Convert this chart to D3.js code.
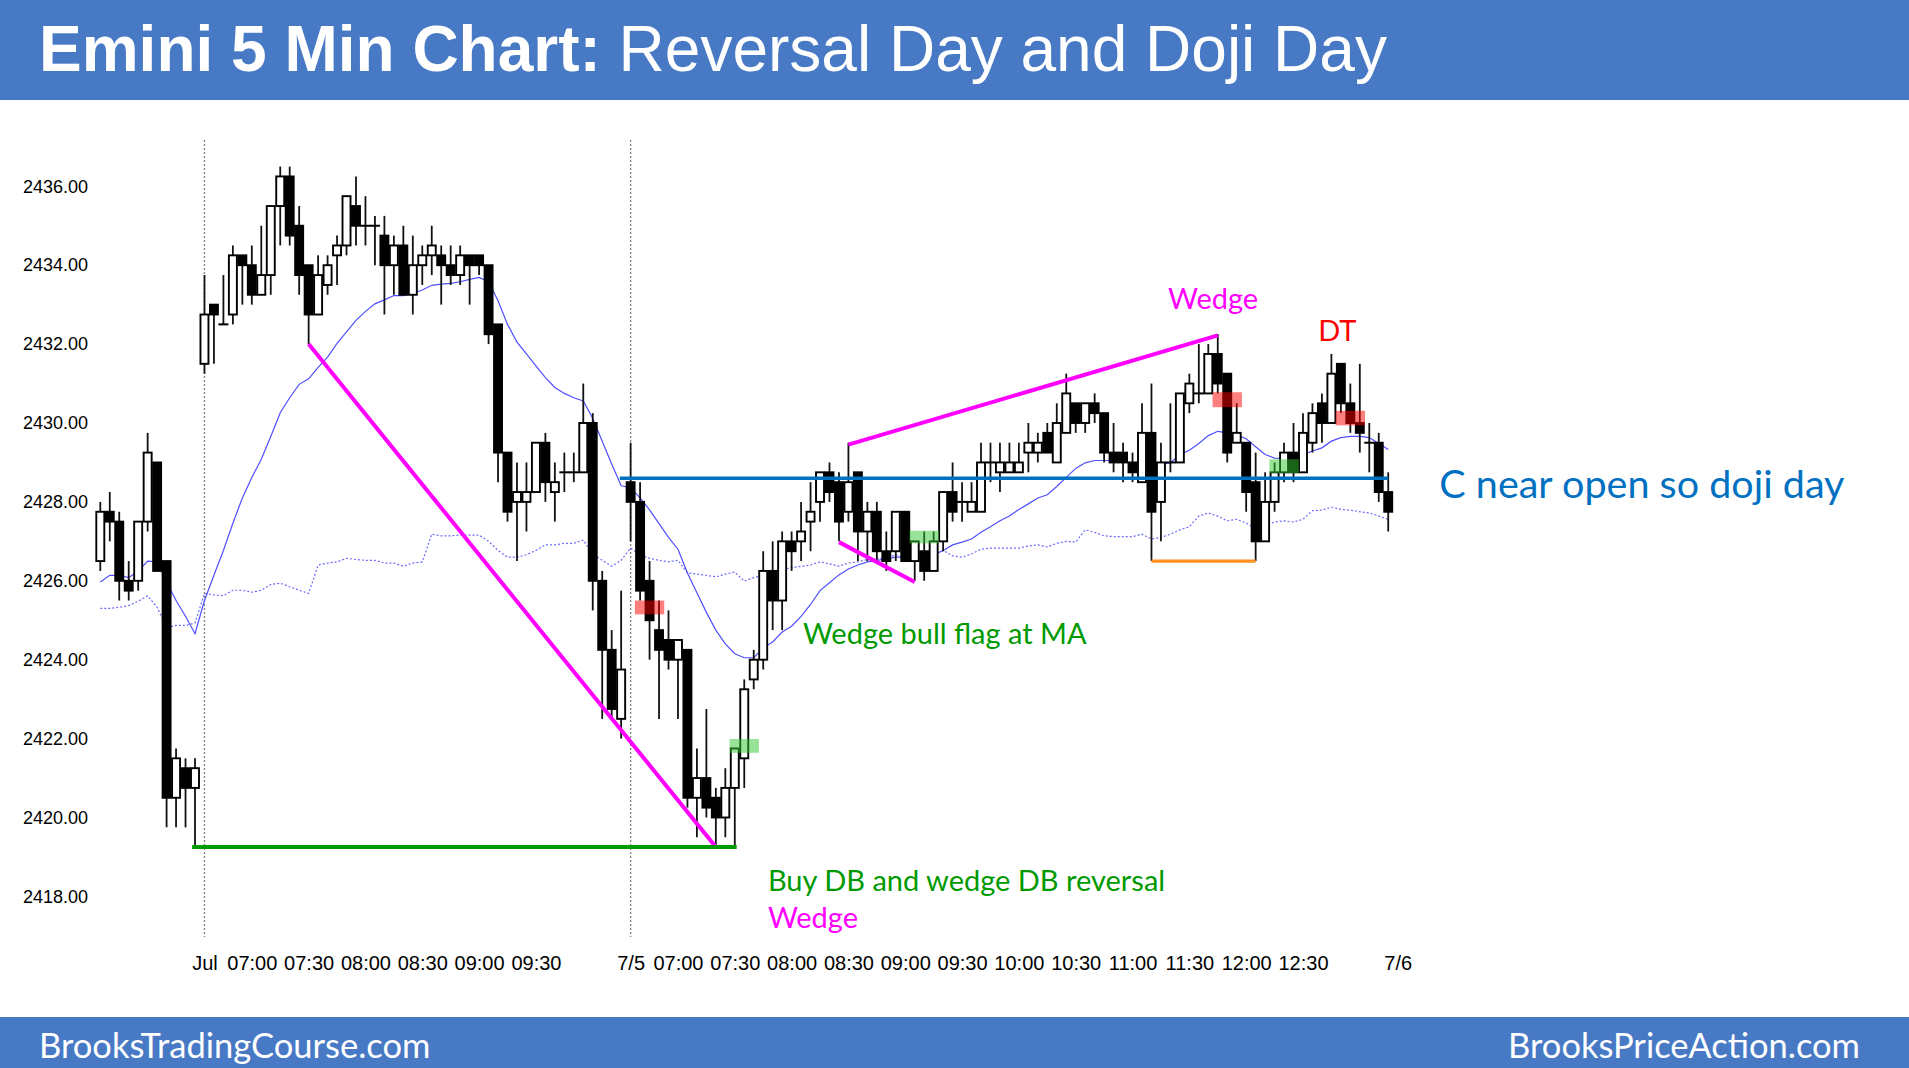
<!DOCTYPE html>
<html><head><meta charset="utf-8">
<script src="https://cdn.jsdelivr.net/npm/d3@7"></script>
<style>html,body{margin:0;padding:0;background:#fff;} svg{display:block;}</style>
</head><body>
<svg id="c" width="1909" height="1068"></svg>
<script>
// ---------- DATA ----------
// bar index 0..10 = prior session close, 11..55 = Jul 3, 56..136 = Jul 5
const opens = [
 2426.5,2427.75,2427.5,2426.0,2426.0,2427.5,2429.0,2426.5,2420.5,2421.25,2420.75,
 2431.5,2433.0,2432.5,2432.75,2434.25,2434.0,2433.25,2433.75,2435.5,2436.25,
 2435.0,2434.0,2432.75,2433.5,2434.25,2434.5,2435.5,2435.0,2435.0,2434.75,
 2434.0,2434.5,2433.25,2434.0,2434.25,2434.25,2434.0,2433.75,2434.25,2434.25,
 2434.0,2432.5,2429.25,2428.0,2428.0,2428.25,2429.5,2428.25,2428.75,2428.75,
 2428.75,2430.0,2426.0,2424.25,2422.5,2428.5,2428.0,2426.0,2424.75,2424.5,
 2424.0,2424.25,2420.5,2421.0,2420.5,2420.0,2420.75,2421.5,2423.5,2424.0,
 2426.25,2425.5,2427.0,2427.0,2427.5,2428.0,2428.75,2428.5,2427.75,2428.75,
 2427.25,2427.75,2426.75,2426.75,2427.75,2426.5,2426.75,2426.25,2427.0,2428.25,
 2428.0,2427.75,2427.75,2429.0,2428.75,2428.75,2428.75,2429.25,2429.25,2429.75,
 2429.0,2429.75,2430.5,2430.0,2430.5,2430.25,2429.25,2429.25,2429.0,2428.5,
 2429.75,2428.0,2429.0,2429.0,2430.5,2430.75,2430.75,2431.75,2431.25,2429.5,
 2429.5,2428.5,2427.0,2428.0,2428.75,2429.25,2428.75,2429.5,2430.5,2430.0,
 2431.5,2430.5,2430.0,2429.5,2429.5,2428.25];
const highs = [
 2428.0,2428.25,2427.75,2426.5,2427.5,2429.75,2429.0,2426.5,2421.75,2421.5,2421.5,
 2433.75,2433.0,2433.75,2434.5,2434.25,2434.5,2435.0,2435.5,2436.5,2436.5,
 2435.5,2434.0,2434.25,2434.25,2434.75,2435.75,2436.25,2435.75,2435.25,2435.25,
 2434.75,2435.0,2434.75,2434.5,2435.0,2434.5,2434.5,2434.5,2434.25,2434.25,
 2434.0,2432.5,2429.25,2429.0,2429.0,2429.5,2429.75,2429.0,2429.25,2429.25,
 2431.0,2430.25,2426.25,2424.75,2425.75,2429.5,2428.5,2426.5,2425.5,2425.25,
 2424.5,2424.25,2421.75,2422.75,2420.75,2421.25,2421.75,2423.5,2424.25,2426.75,
 2427.0,2427.25,2427.25,2428.0,2428.5,2428.75,2429.0,2428.75,2429.5,2428.75,
 2428.0,2428.0,2427.25,2427.75,2427.75,2427.0,2427.25,2427.25,2428.25,2429.0,
 2428.5,2428.5,2429.5,2429.5,2429.5,2429.5,2429.5,2430.0,2429.75,2430.0,
 2430.5,2431.25,2430.5,2430.5,2430.75,2430.25,2430.0,2429.5,2429.25,2430.5,
 2431.0,2429.5,2430.5,2430.75,2431.25,2432.0,2432.0,2432.25,2431.25,2430.5,
 2429.5,2429.25,2428.75,2429.0,2429.5,2430.0,2430.25,2430.5,2430.75,2431.75,
 2431.5,2431.0,2431.5,2430.0,2429.75,2428.75];
const lows = [
 2426.25,2427.0,2425.5,2425.5,2425.75,2427.25,2426.25,2419.75,2419.75,2419.75,2419.25,
 2431.25,2431.5,2432.5,2432.5,2433.0,2433.0,2433.25,2433.25,2434.5,2434.5,
 2433.25,2432.0,2432.75,2433.25,2433.5,2434.25,2434.5,2434.5,2434.0,2432.75,
 2433.25,2433.25,2432.75,2433.5,2433.75,2433.0,2433.5,2433.5,2433.0,2433.75,
 2432.0,2428.5,2427.5,2426.5,2427.25,2428.25,2428.0,2427.5,2428.25,2428.5,
 2428.75,2425.25,2422.5,2422.5,2422.0,2427.0,2425.5,2424.0,2422.5,2423.75,
 2422.5,2420.25,2419.5,2420.0,2419.25,2419.5,2419.25,2420.75,2423.25,2423.75,
 2424.75,2424.75,2426.25,2426.5,2426.75,2427.5,2428.0,2427.0,2427.5,2426.5,
 2426.5,2426.5,2426.25,2426.5,2426.5,2426.0,2426.0,2426.25,2426.75,2427.5,
 2427.5,2427.75,2427.75,2428.5,2428.25,2428.75,2428.75,2428.75,2429.0,2429.25,
 2429.0,2429.75,2429.75,2429.75,2430.0,2429.0,2428.75,2428.5,2428.5,2428.5,
 2426.5,2427.0,2428.75,2429.0,2430.25,2430.5,2430.75,2430.75,2429.0,2429.5,
 2427.75,2426.5,2427.0,2427.75,2428.5,2428.5,2428.75,2429.25,2429.5,2430.0,
 2430.25,2429.75,2429.25,2428.75,2428.0,2427.25];
const closes = [
 2427.75,2427.5,2426.0,2425.75,2427.5,2429.25,2426.25,2420.5,2421.5,2420.75,2421.25,
 2432.75,2432.75,2432.5,2434.25,2434.0,2433.25,2433.75,2435.5,2436.25,2434.75,
 2433.75,2432.75,2433.75,2434.0,2434.5,2435.75,2435.0,2435.0,2435.0,2434.0,
 2434.5,2433.25,2434.0,2434.25,2434.5,2434.0,2433.75,2434.25,2434.0,2434.0,
 2432.25,2429.25,2427.75,2428.25,2428.25,2429.5,2428.5,2428.5,2428.75,2428.75,
 2430.0,2426.0,2424.25,2422.75,2423.75,2428.0,2425.75,2425.0,2424.25,2424.0,
 2424.5,2420.5,2421.0,2420.25,2420.0,2420.75,2421.75,2423.25,2424.0,2426.25,
 2425.5,2427.0,2426.75,2427.25,2427.75,2428.75,2428.25,2427.5,2428.5,2427.25,
 2427.75,2426.75,2426.5,2427.75,2426.5,2427.0,2426.25,2427.0,2428.25,2427.75,
 2428.0,2428.0,2429.0,2429.0,2429.0,2429.0,2429.0,2429.5,2429.5,2429.25,
 2430.0,2430.75,2430.0,2430.5,2430.25,2429.25,2429.0,2429.0,2428.75,2429.75,
 2427.75,2429.0,2429.0,2430.75,2431.0,2430.75,2431.75,2431.0,2429.25,2429.75,
 2428.25,2427.0,2428.0,2428.75,2429.25,2428.75,2429.75,2430.25,2430.0,2431.25,
 2430.5,2430.0,2429.75,2429.5,2428.25,2427.75];
// moving average (solid)
const maSolid = [
 2425.97,2426.14,2426.14,2426.08,2426.25,2426.5,2426.48,2425.97,2425.5,2425.1,2424.66,
 2425.5,2426.14,2426.77,2427.46,2428.1,2428.62,2429.08,2429.66,2430.26,2430.64,2430.98,2431.12,2431.41,2431.67,
 2432.02,2432.31,2432.6,2432.83,2433.02,2433.12,2433.23,2433.23,2433.29,2433.37,2433.49,2433.52,2433.54,2433.58,2433.64,2433.69,2433.58,2433.1,2432.5,2432.05,2431.75,2431.45,2431.15,2430.9,2430.75,
 2430.64,2430.56,2430.12,2429.54,2428.96,2428.41,2428.36,2428.1,2427.8,2427.45,2427.1,2426.8,2426.2,2425.7,2425.2,2424.75,2424.4,2424.15,2424.05,2424.05,2424.3,2424.45,2424.7,2424.85,
 2425.1,2425.4,2425.75,2425.95,2426.15,2426.3,2426.4,2426.48,2426.52,2426.55,2426.6,2426.6,2426.57,2426.57,2426.66,2426.77,2426.91,2426.98,2427.06,2427.23,2427.37,2427.52,2427.64,2427.81,2427.95,
 2428.1,2428.18,2428.39,2428.62,2428.85,2428.99,2429.05,2429.05,2429.05,2429.02,2428.99,2429.02,2428.96,2428.96,2428.99,2429.2,2429.31,2429.48,2429.68,2429.79,2429.75,2429.7,2429.6,2429.4,
 2429.2,2429.11,2429.1,2429.14,2429.2,2429.29,2429.37,2429.54,2429.63,2429.66,2429.66,2429.63,2429.48,2429.33];
// second moving average (dotted)
const maDotted = [
 2425.3,2425.3,2425.33,2425.37,2425.48,2425.62,2425.33,2424.81,2424.87,2424.87,2424.93,
 2425.68,2425.64,2425.62,2425.76,2425.76,2425.71,2425.76,2425.91,2425.94,2425.85,2425.76,2425.68,2426.4,2426.45,
 2426.48,2426.57,2426.54,2426.52,2426.52,2426.45,2426.45,2426.37,2426.45,2426.48,2427.18,2427.14,2427.14,2427.16,2427.16,2427.16,2427.0,2426.77,2426.6,2426.6,2426.66,2426.77,2426.91,2426.91,2426.95,
 2426.95,2427.03,2426.68,2426.52,2426.37,2426.52,2426.83,2426.66,2426.57,2426.52,2426.48,2426.52,2426.2,2426.17,2426.14,2426.1,2426.17,2426.22,2425.99,2426.08,2426.14,2426.25,2426.29,2426.33,
 2426.37,2426.4,2426.48,2426.43,2426.37,2426.45,2426.48,2426.54,2426.57,2426.57,2426.66,2426.6,2426.57,2426.54,2426.66,2426.77,2426.63,2426.6,2426.68,2426.8,2426.83,2426.83,2426.83,2426.83,2426.88,
 2426.91,2426.86,2426.95,2427.0,2426.98,2427.29,2427.23,2427.14,2427.12,2427.12,2427.12,2427.18,2427.06,2427.1,2427.18,2427.29,2427.37,2427.64,2427.72,2427.64,2427.52,2427.56,2427.46,2427.32,
 2427.41,2427.49,2427.52,2427.49,2427.56,2427.78,2427.79,2427.87,2427.81,2427.79,2427.75,2427.72,2427.64,2427.56];

const yTicks = [2418,2420,2422,2424,2426,2428,2430,2432,2434,2436];
const xTickBars = [11,16,22,28,34,40,46,56,61,67,73,79,85,91,97,103,109,115,121,127,137];
const xTickLabels = ["Jul","07:00","07:30","08:00","08:30","09:00","09:30","7/5","07:00","07:30","08:00","08:30","09:00","09:30","10:00","10:30","11:00","11:30","12:00","12:30","7/6"];
const sessionStarts = [11,56];

// annotation lines in (bar, price)
const lineFrom = [[22,2432.0],[9.7,2419.25],[54.85,2428.6],[79,2429.45],[78,2426.98],[111,2426.5]];
const lineTo   = [[65,2419.25],[67.2,2419.25],[136,2428.6],[118,2432.22],[86,2425.97],[122,2426.5]];
const lineKind = ["magenta","green","blue","magenta","magenta","orange"];
// signal boxes (center bar, low price, high price)
const sellBoxes = [[58,2425.15,2425.5],[119,2430.4,2430.78],[132,2429.94,2430.31]];
const buyBoxes  = [[68,2421.64,2421.99],[87,2426.95,2427.27],[125,2428.73,2429.08]];
// text labels (bar, price, text)
const notes = [
 [112.75,2433.17,"Wedge","magenta"],
 [128.6,2432.36,"DT","red"],
 [141.4,2428.5,"C near open so doji day","blue"],
 [74.2,2424.7,"Wedge bull flag at MA","green"],
 [70.5,2418.44,"Buy DB and wedge DB reversal","green"],
 [70.5,2417.48,"Wedge","magenta"]];

// ---------- DRAW ----------
const W=1909,H=1068;
const svg=d3.select("#c");
const headBlue="#4779C5";
const colors={magenta:"#FF00FF",green:"#009A00",blue:"#0070C0",orange:"#FF9224",red:"#FF0000"};
const x=d3.scaleLinear().domain([0,136]).range([100.3,100.3+136*9.47]);
const y=d3.scaleLinear().domain([2418,2436]).range([896.4,186.3]);
const bw=8;

// header / footer
svg.append("rect").attr("x",0).attr("y",0).attr("width",W).attr("height",100).attr("fill",headBlue);
const title=svg.append("text").attr("x",39).attr("y",71).attr("fill","#fff")
  .style("font-family","'Liberation Sans',Arial,sans-serif").style("font-size","64px");
title.append("tspan").attr("font-weight","bold").text("Emini 5 Min Chart:");
title.append("tspan").text(" Reversal Day and Doji Day");
svg.append("rect").attr("x",0).attr("y",1017).attr("width",W).attr("height",H-1017).attr("fill",headBlue);
svg.append("text").attr("x",39).attr("y",1058).attr("fill","#fff")
  .style("font-family","Lato,sans-serif").style("font-size","34.5px").text("BrooksTradingCourse.com");
svg.append("text").attr("x",1860).attr("y",1058).attr("fill","#fff").attr("text-anchor","end")
  .style("font-family","Lato,sans-serif").style("font-size","34.5px").text("BrooksPriceAction.com");

// axes
const ya=svg.append("g").attr("transform","translate(95,0)")
  .call(d3.axisLeft(y).tickValues(yTicks).tickFormat(d3.format(".2f")).tickSize(0).tickPadding(7));
ya.select(".domain").remove();
ya.selectAll("text").style("font-family","'Liberation Sans',Arial,sans-serif").style("font-size","18px").attr("fill","#000");
const xa=svg.append("g").attr("transform","translate(0,956)")
  .call(d3.axisBottom(x).tickValues(xTickBars).tickFormat((d,k)=>xTickLabels[k]).tickSize(0).tickPadding(0));
xa.select(".domain").remove();
xa.selectAll("text").style("font-family","'Liberation Sans Narrow','Arial Narrow',sans-serif").style("font-size","20px").attr("fill","#000");

// session separators
svg.append("g").selectAll("line").data(sessionStarts).join("line")
  .attr("x1",d=>x(d)).attr("x2",d=>x(d)).attr("y1",140).attr("y2",937)
  .attr("stroke","#808080").attr("stroke-width",1.3).attr("stroke-dasharray","2,2");

// moving averages
const idx=d3.range(opens.length);
svg.append("path").datum(idx).attr("fill","none").attr("stroke","#6A6AFF").attr("stroke-width",1.2)
  .attr("stroke-dasharray","2,2").attr("d",d3.line().x(i=>x(i)).y(i=>y(maDotted[i])));
svg.append("path").datum(idx).attr("fill","none").attr("stroke","#4F4FFF").attr("stroke-width",1.2)
  .attr("d",d3.line().x(i=>x(i)).y(i=>y(maSolid[i])));

// candles
const cg=svg.append("g");
cg.selectAll("line.wick").data(idx).join("line").attr("class","wick")
  .attr("x1",i=>x(i)).attr("x2",i=>x(i)).attr("y1",i=>y(highs[i])).attr("y2",i=>y(lows[i]))
  .attr("stroke","#111").attr("stroke-width",1.8);
cg.selectAll("rect.body").data(idx.filter(i=>opens[i]!==closes[i])).join("rect").attr("class","body")
  .attr("x",i=>x(i)-bw/2).attr("width",bw)
  .attr("y",i=>y(Math.max(opens[i],closes[i])))
  .attr("height",i=>Math.abs(y(opens[i])-y(closes[i])))
  .attr("fill",i=>closes[i]>opens[i]?"#fff":"#000").attr("stroke","#000").attr("stroke-width",1.9);
cg.selectAll("line.doji").data(idx.filter(i=>opens[i]===closes[i])).join("line").attr("class","doji")
  .attr("x1",i=>x(i)-bw/2-1).attr("x2",i=>x(i)+bw/2+1).attr("y1",i=>y(opens[i])).attr("y2",i=>y(opens[i]))
  .attr("stroke","#000").attr("stroke-width",2);

// annotation lines
const lw={magenta:4,green:4,blue:3.6,orange:3.2};
svg.append("g").selectAll("line").data(d3.range(lineFrom.length)).join("line")
  .attr("x1",k=>x(lineFrom[k][0])).attr("y1",k=>y(lineFrom[k][1]))
  .attr("x2",k=>x(lineTo[k][0])).attr("y2",k=>y(lineTo[k][1]))
  .attr("stroke",k=>colors[lineKind[k]]).attr("stroke-width",k=>lw[lineKind[k]]);

// signal boxes
const boxW=3.1;
svg.append("g").selectAll("rect").data(sellBoxes).join("rect")
  .attr("x",d=>x(d[0]-boxW/2)).attr("width",d=>x(boxW)-x(0))
  .attr("y",d=>y(d[2])).attr("height",d=>y(d[1])-y(d[2]))
  .attr("fill","rgba(255,0,0,0.5)");
svg.append("g").selectAll("rect").data(buyBoxes).join("rect")
  .attr("x",d=>x(d[0]-boxW/2)).attr("width",d=>x(boxW)-x(0))
  .attr("y",d=>y(d[2])).attr("height",d=>y(d[1])-y(d[2]))
  .attr("fill","rgba(50,200,50,0.5)");

// notes
const noteSize={"C near open so doji day":"39.5px"};
svg.append("g").selectAll("text").data(notes).join("text")
  .attr("x",d=>x(d[0])).attr("y",d=>y(d[1])).attr("dominant-baseline","central")
  .attr("fill",d=>colors[d[3]])
  .style("font-family","Lato,sans-serif").style("font-size",d=>noteSize[d[2]]||"29px")
  .text(d=>d[2]);
</script>
</body></html>
